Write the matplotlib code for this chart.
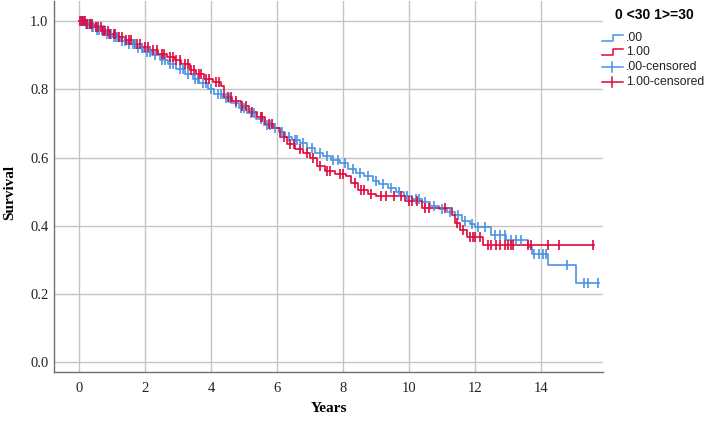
#
# Kaplan-Meier survival by group (0 <30, 1 >=30), with censored cases marked.
#

import matplotlib
matplotlib.use('Agg')
import matplotlib.pyplot as plt
from matplotlib.lines import Line2D
import numpy as np

# group .00 : step times (years) and survival after each step
blue_times = [0.00, 0.15, 0.35, 0.55, 0.80, 1.00, 1.25, 1.45, 1.70, 1.95,
              2.20, 2.45, 2.70, 2.95, 3.20, 3.45, 3.65, 3.90, 4.10, 4.35,
              4.60, 4.85, 5.10, 5.35, 5.60, 5.85, 6.05, 6.25, 6.45, 6.70,
              6.90, 7.15, 7.40, 7.65, 7.90, 8.15, 8.40, 8.65, 8.90, 9.10,
              9.35, 9.60, 9.85, 10.10, 10.40, 10.65, 10.90, 11.15, 11.40,
              11.60, 11.85, 12.00, 12.50, 12.95, 13.60, 13.72, 14.20, 15.05]
blue_surv = [1.000, 0.993, 0.985, 0.976, 0.964, 0.955, 0.943, 0.933, 0.921,
             0.910, 0.900, 0.886, 0.874, 0.861, 0.845, 0.832, 0.820, 0.800,
             0.786, 0.774, 0.760, 0.745, 0.730, 0.712, 0.697, 0.686, 0.675,
             0.660, 0.651, 0.643, 0.628, 0.613, 0.604, 0.592, 0.583, 0.566,
             0.556, 0.545, 0.530, 0.522, 0.510, 0.500, 0.486, 0.478, 0.470,
             0.458, 0.449, 0.440, 0.432, 0.415, 0.405, 0.397, 0.372, 0.358,
             0.338, 0.317, 0.283, 0.232]
blue_end = 15.75
blue_censored = [0.05, 0.10, 0.12, 0.20, 0.24, 0.28, 0.33, 0.38, 0.42, 0.50,
                 0.55, 0.60, 0.68, 0.75, 0.84, 0.90, 0.98, 1.05, 1.12, 1.18,
                 1.30, 1.38, 1.50, 1.62, 1.68, 1.80, 1.90, 2.05, 2.15, 2.30,
                 2.50, 2.60, 2.75, 2.85, 3.05, 3.15, 3.30, 3.50, 3.60, 3.75,
                 3.85, 4.00, 4.20, 4.30, 4.45, 4.55, 4.75, 4.90, 5.00, 5.20,
                 5.30, 5.50, 5.70, 5.80, 5.95, 6.15, 6.35, 6.55, 6.60, 6.80,
                 7.05, 7.30, 7.50, 7.70, 7.85, 8.05, 8.30, 8.50, 8.75, 9.00,
                 9.20, 9.45, 9.70, 9.95, 10.20, 10.30, 10.50, 10.75, 11.00,
                 11.25, 11.50, 11.70, 11.90, 12.10, 12.30, 12.60, 12.75,
                 12.90, 13.10, 13.25, 13.40, 13.80, 13.95, 14.05, 14.15,
                 14.80, 15.30, 15.42, 15.72]

# group 1.00
red_times = [0.00, 0.20, 0.45, 0.70, 0.90, 1.15, 1.40, 1.65, 1.90, 2.15,
             2.40, 2.65, 2.90, 3.10, 3.35, 3.55, 3.80, 4.05, 4.30, 4.40,
             4.65, 4.90, 5.15, 5.40, 5.65, 5.90, 6.10, 6.30, 6.55, 6.80,
             7.00, 7.20, 7.45, 7.75, 8.10, 8.25, 8.45, 8.75, 9.00, 9.88,
             10.40, 11.30, 11.40, 11.55, 11.75, 12.25]
red_surv = [1.000, 0.992, 0.983, 0.972, 0.964, 0.954, 0.944, 0.934, 0.925,
            0.915, 0.905, 0.896, 0.886, 0.874, 0.858, 0.845, 0.832, 0.822,
            0.810, 0.778, 0.765, 0.752, 0.735, 0.720, 0.700, 0.686, 0.660,
            0.640, 0.625, 0.612, 0.600, 0.575, 0.560, 0.552, 0.545, 0.525,
            0.505, 0.492, 0.487, 0.472, 0.451, 0.430, 0.407, 0.387, 0.367,
            0.343]
red_end = 15.62
red_censored = [0.03, 0.08, 0.15, 0.18, 0.25, 0.32, 0.36, 0.40, 0.50, 0.58,
                0.65, 0.72, 0.80, 0.88, 0.95, 1.05, 1.10, 1.20, 1.30, 1.42,
                1.50, 1.58, 1.75, 1.85, 2.00, 2.10, 2.25, 2.35, 2.50, 2.58,
                2.75, 2.85, 2.95, 3.05, 3.20, 3.30, 3.40, 3.48, 3.62, 3.70,
                3.85, 3.95, 4.15, 4.25, 4.50, 4.60, 4.75, 4.95, 5.05, 5.25,
                5.50, 5.55, 5.75, 5.85, 6.20, 6.40, 6.50, 6.70, 6.90, 7.10,
                7.30, 7.50, 7.60, 7.90, 8.00, 8.35, 8.55, 8.65, 8.85, 9.15,
                9.30, 9.55, 9.75, 10.00, 10.10, 10.25, 10.50, 10.60, 11.10,
                11.45, 11.65, 11.85, 11.95, 12.00, 12.15, 12.40, 12.50, 12.65,
                12.75, 12.90, 13.00, 13.10, 13.15, 13.60, 13.70, 14.20, 14.55,
                15.58]

x_ticks = [0, 2, 4, 6, 8, 10, 12, 14]
y_ticks = [0.0, 0.2, 0.4, 0.6, 0.8, 1.0]

BLUE = '#4a92e4'
RED = '#e0073c'
W, H = 709, 428


def surv_at(times, surv, t):
    """Return survival of a step curve at time t."""
    i = np.searchsorted(times, t, side='right') - 1
    return surv[max(i, 0)]


def draw_group(ax, times, surv, end, censored, color):
    ts = list(times) + [end]
    ss = list(surv) + [surv[-1]]
    ax.step(ts, ss, where='post', color=color, lw=1.2, zorder=3)
    cy = [surv_at(times, surv, c) for c in censored]
    ax.plot(censored, cy, ls='none', marker='|', ms=7, mew=1.2,
            color=color, zorder=4)


def px(x, y):
    """Pixel position -> figure fraction."""
    return x / W, 1 - y / H


def main():
    fig = plt.figure(figsize=(W / 100, H / 100), dpi=100, facecolor='white')
    ax = fig.add_axes([54 / W, 56 / H, 549 / W, 371 / H])

    draw_group(ax, blue_times, blue_surv, blue_end, blue_censored, BLUE)
    draw_group(ax, red_times, red_surv, red_end, red_censored, RED)

    ax.set_xlim(-0.76, 15.88)
    ax.set_ylim(-0.03, 1.06)
    ax.set_xticks(x_ticks)
    ax.set_yticks(y_ticks)
    ax.set_yticklabels(['%.1f' % v for v in y_ticks])
    ax.grid(True, color='#c4c4c4', lw=1.0)
    ax.set_axisbelow(True)
    for side in ['top', 'right']:
        ax.spines[side].set_visible(False)
    for side in ['left', 'bottom']:
        ax.spines[side].set_color('#6e6e6e')
        ax.spines[side].set_linewidth(1.0)
    ax.tick_params(axis='both', length=0, labelsize=10.5,
                   labelcolor='#222222')
    ax.tick_params(axis='x', pad=7)
    ax.tick_params(axis='y', pad=4)
    for lab in ax.get_xticklabels() + ax.get_yticklabels():
        lab.set_family('Liberation Serif')

    fig.text(*px(10, 192), 'Survival', rotation=90, ha='center',
             va='center', family='Liberation Serif', weight='bold',
             fontsize=11)
    fig.text(*px(329, 408), 'Years', ha='center', va='center',
             family='Liberation Serif', weight='bold', fontsize=11)

    # legend drawn by hand, SPSS style
    fig.text(*px(654, 15), '0 <30 1>=30', ha='center', va='center',
             family='Liberation Sans', weight='bold', fontsize=10)
    labels = ['.00', '1.00', '.00-censored', '1.00-censored']
    colors = [BLUE, RED, BLUE, RED]
    rows = [38, 52, 67, 82]
    for i, (lab, col, y) in enumerate(zip(labels, colors, rows)):
        if i < 2:
            xs = [602, 613, 613, 623]
            ys = [y + 3, y + 3, y - 3, y - 3]
            fx, fy = zip(*[px(a, b) for a, b in zip(xs, ys)])
            fig.add_artist(Line2D(fx, fy, color=col, lw=1.1))
        else:
            fx, fy = zip(*[px(a, y) for a in (602, 623)])
            fig.add_artist(Line2D(fx, fy, color=col, lw=1.1))
            tx, ty = zip(*[px(612, y - 5), px(612, y + 5)])
            fig.add_artist(Line2D(tx, ty, color=col, lw=1.1))
        fig.text(*px(626, y), lab, ha='left', va='center',
                 family='Liberation Sans', fontsize=8.8, color='#222222')

    fig.savefig('out.png', dpi=100, facecolor='white')


if __name__ == "__main__":
    main()
